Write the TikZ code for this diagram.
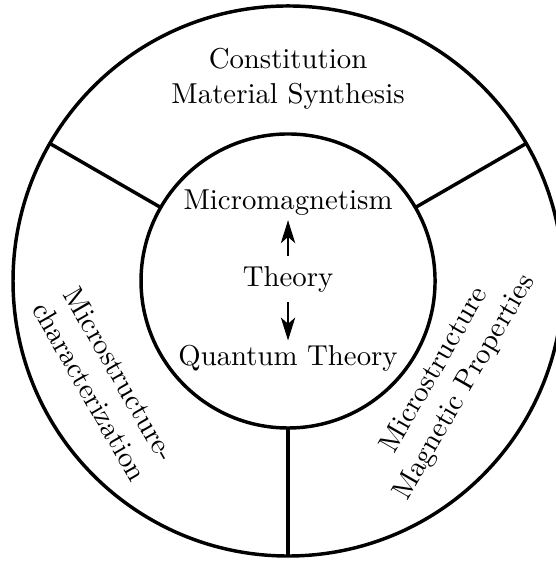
\documentclass[tikz,border=0pt]{standalone}
\usepackage{tikz}
\usetikzlibrary{arrows.meta}
\tikzset{
  ring/.style={circle, draw, very thick, inner sep=0pt, outer sep=0pt},
  sector/.style={very thick},
  lbl/.style={align=center, inner sep=1.5pt},
  flow/.style={-{Stealth[length=8pt, width=5pt, inset=2.2pt]}, line width=0.4pt},
}

\begin{document}
\begin{tikzpicture}
    \useasboundingbox (-3.517,-3.419) rectangle (3.260,3.431);

    \node[ring, minimum size=6.716cm] (outer) at (0,0) {};
    \node[ring, minimum size=3.59cm] (inner) at (0,0) {};

    % sector borders
    \draw[sector] (inner.30) -- (outer.30);
    \draw[sector] (inner.150) -- (outer.150);
    \draw[sector] (inner.270) -- (outer.270);

    \node[lbl] (constitution) at (0,2.47) {Constitution\\Material Synthesis};
    \node[lbl, rotate=-60] (character) at (-2.234,-1.245) {Microstructure-\\characterization};
    \node[lbl, rotate=60] (magnetic) at (1.978,-1.197) {Microstructure\\Magnetic Properties};

    \node[lbl] (micromag) at (0,0.958) {Micromagnetism};
    \node (theory) at (0,0.02) {Theory};
    \node[lbl] (quantum) at (0,-0.946) {Quantum Theory};

    \draw[flow] (theory) -- (micromag);
    \draw[flow] (theory) -- (quantum);
\end{tikzpicture}
\end{document}
